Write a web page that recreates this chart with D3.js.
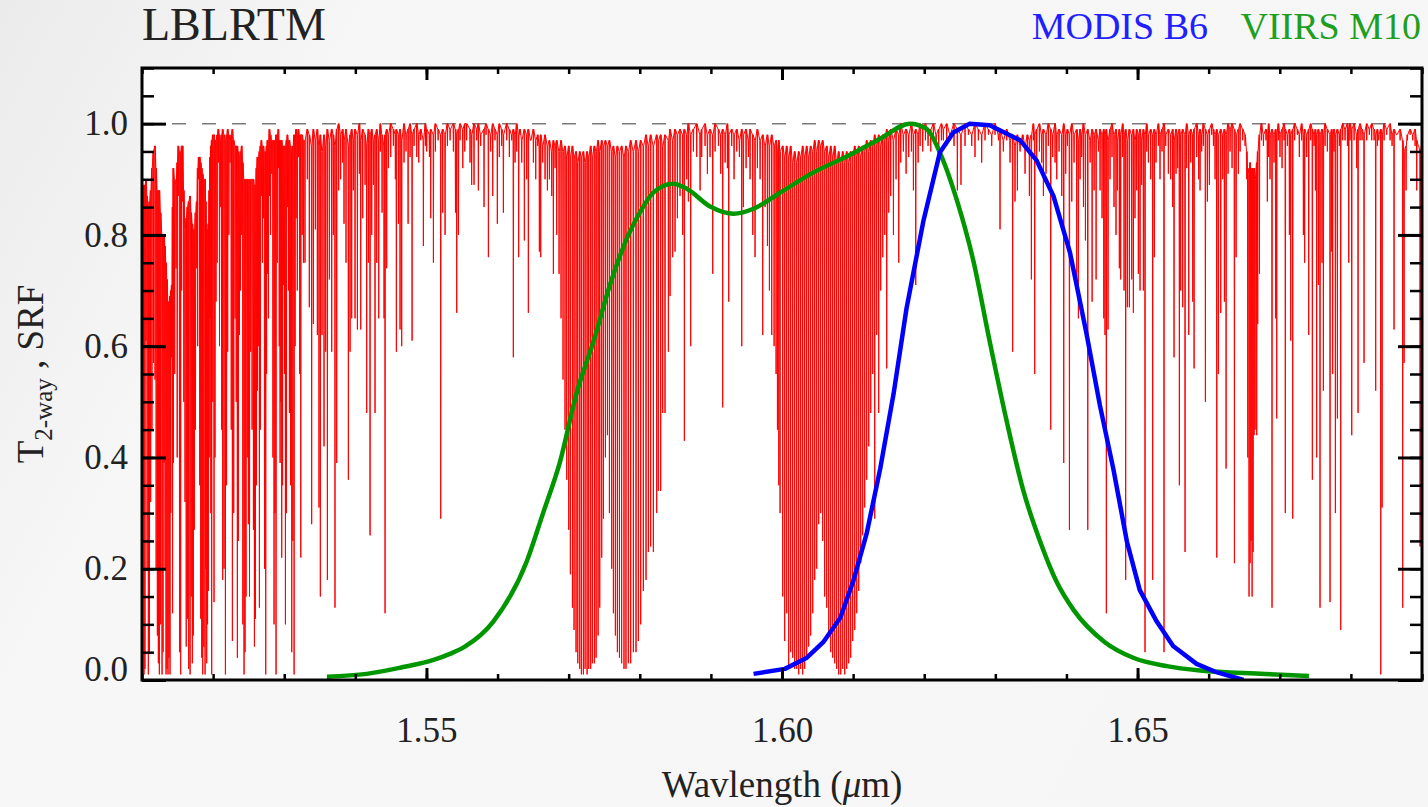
<!DOCTYPE html>
<html>
<head>
<meta charset="utf-8">
<script src="https://cdn.jsdelivr.net/npm/d3@7"></script>
<style>
  body { margin: 0; background: #f3f3f3; }
  text { font-family: "Liberation Serif", "Times New Roman", serif; }
</style>
</head>
<body>
<script>
// ---- data ----
// VIIRS M10 spectral response [wavelength um, SRF]
var srfM10 = [[1.5360,0.006],[1.5416,0.011],[1.5463,0.022],[1.5510,0.036],[1.5533,0.047],[1.5554,0.060],
  [1.5594,0.105],[1.5641,0.213],[1.5664,0.300],[1.5688,0.393],[1.5711,0.515],[1.5735,0.609],[1.5758,0.710],
  [1.5783,0.797],[1.5800,0.840],[1.5819,0.876],[1.5847,0.892],[1.5866,0.883],[1.5899,0.851],[1.5932,0.838],
  [1.5960,0.847],[1.6000,0.878],[1.6044,0.912],[1.6091,0.941],[1.6138,0.973],[1.6180,1.000],[1.6203,0.991],
  [1.6222,0.948],[1.6246,0.862],[1.6269,0.754],[1.6292,0.609],[1.6316,0.465],[1.6339,0.342],[1.6363,0.249],
  [1.6386,0.177],[1.6410,0.126],[1.6454,0.068],[1.6494,0.040],[1.6541,0.025],[1.6588,0.017],[1.6679,0.011],[1.6741,0.007]];

// MODIS B6 spectral response
var srfB6 = [[1.5960,0.011],[1.6004,0.020],[1.6035,0.040],[1.6058,0.068],[1.6082,0.112],[1.6100,0.177],
  [1.6119,0.263],[1.6138,0.379],[1.6157,0.515],[1.6175,0.667],[1.6199,0.826],[1.6222,0.948],[1.6241,0.984],
  [1.6264,1.000],[1.6292,0.997],[1.6335,0.970],[1.6358,0.934],[1.6382,0.869],[1.6405,0.768],[1.6428,0.624],
  [1.6447,0.494],[1.6466,0.379],[1.6485,0.249],[1.6503,0.162],[1.6527,0.105],[1.6550,0.061],[1.6583,0.029],
  [1.6611,0.014],[1.6649,0.000]];

// LBLRTM two-way transmittance, absorption lines: [centre nm, local top T, minimum T]
var linesShort = [
[1509.95,.90,.07],[1510.12,.89,.30],[1510.28,.88,.01],[1510.42,.89,.02],[1510.56,.90,.61],[1510.72,.87,.20],[1510.89,.85,.01],[1511.05,.86,.05],[1511.22,.88,.32],[1511.40,.92,.45],[1511.60,.95,.57],[1511.83,.96,.54],[1511.99,.92,.20],[1512.16,.88,.08],[1512.30,.88,.03],[1512.44,.88,.01],[1512.62,.84,.10],[1512.82,.80,.01],[1512.96,.80,.05],[1513.10,.80,.39],[1513.24,.78,.20],[1513.38,.75,.01],[1513.52,.72,.02],[1513.66,.68,.01],[1513.80,.68,.04],[1513.94,.69,.01],[1514.05,.70,.30],[1514.18,.71,.58],[1514.30,.85,.12],[1514.41,.92,.39],[1514.60,.90,.55],[1514.79,.89,.74],[1514.95,.93,.40],[1515.11,.96,.87],[1515.28,.95,.05],[1515.44,.95,.01],[1515.58,.96,.70],[1515.72,.96,.86],[1515.88,.88,.50],[1516.05,.81,.32],[1516.22,.83,.06],[1516.38,.85,.11],[1516.57,.86,.02],[1516.76,.87,.01],[1516.92,.84,.15],[1517.08,.82,.03],[1517.22,.81,.08],[1517.36,.81,.27],[1517.52,.84,.45],[1517.69,.86,.74],[1517.83,.92,.60],[1517.97,.94,.90],[1518.12,.94,.35],[1518.26,.93,.11],[1518.40,.92,.04],[1518.54,.91,.01],[1518.70,.90,.06],[1518.87,.90,.01],[1518.98,.86,.20],[1519.10,.81,.03],[1519.22,.81,.10],[1519.33,.82,.16],[1519.45,.88,.40],[1519.57,.94,.65],[1519.68,.96,.30],[1519.80,.97,.01],[1519.96,.98,.50],[1520.13,.98,.14],[1520.27,.97,.40],[1520.41,.97,.68],[1520.57,.98,.75],[1520.74,.99,.93],[1520.90,.98,.60],[1521.07,.97,.85],[1521.20,.98,.45],[1521.35,.99,.18],[1521.54,.98,.20],[1521.73,.97,.01],[1521.89,.98,.35],[1522.05,.99,.59],[1522.22,.98,.80],[1522.38,.97,.93],[1522.55,.98,.45],[1522.71,.99,.07],[1522.90,.97,.30],[1523.09,.96,.65],[1523.25,.96,.50],[1523.41,.96,.04],[1523.55,.95,.25],[1523.70,.94,.62],[1523.86,.95,.70],[1524.02,.96,.80],[1524.18,.93,.10],[1524.35,.90,.01],[1524.49,.90,.05],[1524.63,.90,.15],[1524.80,.90,.40],[1524.96,.90,.28],[1525.12,.90,.15],[1525.29,.90,.59],[1525.48,.90,.45],[1525.67,.90,.27],[1525.81,.89,.06],[1525.95,.89,.11],[1526.09,.92,.35],[1526.23,.94,.52],[1526.37,.94,.60],[1526.51,.95,.13],[1526.65,.96,.45],[1526.79,.97,.87],[1526.93,.96,.75],[1527.07,.96,.83],[1527.23,.95,.20],[1527.40,.95,.01],[1527.52,.96,.55],[1527.64,.97,.73],[1527.78,.97,.65],[1527.92,.99,.87],[1528.08,.98,.80],[1528.25,.97,.91],[1528.41,.97,.40],[1528.57,.97,.10],[1528.71,.97,.30],[1528.85,.98,.01],[1529.02,.98,.75],[1529.18,.99,.92],[1529.30,.97,.60],[1529.42,.97,.39],[1529.54,.97,.50],[1529.65,.97,.22],[1529.77,.96,.35],[1529.89,.96,.71],[1530.03,.96,.55],[1530.17,.96,.10],[1530.31,.97,.30],[1530.45,.98,.85],[1530.59,.97,.70],[1530.73,.97,.48],[1530.90,.96,.35],[1531.06,.95,.05],[1531.22,.96,.25],[1531.39,.98,.01],[1531.53,.98,.60],[1531.67,.99,.83],[1531.84,.98,.70],[1532.00,.99,.94],[1532.17,.98,.55],[1532.33,.98,.22],[1532.52,.98,.80],[1532.70,.97,.75],
[1532.92,.97,.75],[1533.25,.99,.90],[1533.53,.98,.67],[1533.86,.96,.28],[1534.10,.99,.64],[1534.38,.97,.81],[1534.66,.99,.62],[1534.89,.96,.31],[1535.08,.98,.15],[1535.32,.95,.62],[1535.60,.98,.42],[1535.83,.96,.59],[1536.07,.99,.18],[1536.35,.97,.72],[1536.68,.99,.59],[1536.91,.98,.80],[1537.14,.96,.13],[1537.38,.99,.39],[1537.66,1.0,.88],[1537.94,.98,.90],[1538.22,.99,.93],[1538.41,.97,.82],[1538.69,.99,.75],[1539.02,.96,.36],[1539.26,.98,.59],[1539.49,.99,.65],[1539.72,.97,.88],[1539.96,.99,.65],[1540.29,.98,.63],[1540.57,1.0,.91],[1540.76,.97,.63],[1541.04,.99,.83],[1541.37,.98,.89],[1541.60,.96,.48],[1541.84,.99,.75],[1542.07,.98,.26],[1542.31,.99,.80],[1542.54,.97,.89],[1542.77,.98,.48],[1543.01,.99,.75],[1543.29,.97,.65],[1543.52,1.0,.95],[1543.76,.98,.84],[1544.04,.96,.65],[1544.18,.98,.12],[1544.41,.99,.74],[1544.65,.98,.92],[1544.98,1.0,.94],[1545.35,.99,.96],[1545.63,.98,.90],[1545.77,.99,.59],[1546.06,.98,.82],[1546.29,.99,.63],[1546.52,.97,.60],[1546.85,1.0,.93],[1547.13,.98,.95],[1547.42,.99,.82],[1547.70,1.0,.94],[1547.98,.98,.61],[1548.26,.99,.96],[1548.64,1.0,.94],[1548.92,.98,.93],[1549.20,.99,.97],[1549.57,.97,.78],[1549.85,1.0,.96],[1550.04,.99,.95],[1550.42,.98,.94],[1550.60,.99,.83],[1550.98,.98,.75],[1551.26,1.0,.95],[1551.64,.99,.97],[1552.01,.98,.29],[1552.29,.99,.84],[1552.62,.98,.80],[1552.95,1.0,.96],[1553.33,.99,.97],[1553.79,1.0,.95],[1554.08,.99,.84],[1554.26,.98,.66],[1554.50,.99,.80],[1554.73,1.0,.97],[1555.11,.99,.92],[1555.39,1.0,.95]
];

var linesBand1 = [
[1555.66,1.0,.97],[1556.13,.99,.93],[1556.36,.98,.89],[1556.69,1.0,.89],[1557.07,.99,.97],[1557.30,1.0,.88],[1557.63,.98,.96],[1558.10,.99,.85],[1558.38,1.0,.98],[1558.71,.99,.76],[1559.03,.98,.95],[1559.32,1.0,.87],[1559.64,.99,.97],[1559.97,.98,.82],[1560.25,1.0,.94],[1560.58,.99,.96],[1560.82,.98,.84],[1561.29,1.0,.97],[1561.66,.99,.94],[1561.99,.98,.97],[1562.22,.99,.58],[1562.46,.98,.93],[1562.69,1.0,.95],[1562.97,.98,.76],[1563.16,.99,.98],[1563.40,.97,.93],[1563.77,.99,.79],[1564.10,.98,.90],[1564.33,.99,.66],[1564.66,.97,.97],[1565.04,.99,.93],[1565.37,.97,.90],[1565.65,.98,.96],[1565.88,.96,.77],[1566.07,.98,.76],[1566.35,.96,.93],[1566.68,.98,.90],[1567.01,.96,.88],[1567.29,.97,.90],[1567.62,.95,.87],[1567.85,.97,.73],[1568.09,.96,.92],[1568.32,.97,.80],[1568.65,.95,.73],[1568.93,.97,.65],[1569.21,.95,.54],[1569.49,.96,.45],[1569.73,.94,.36],[1570.01,.96,.27],[1570.24,.94,.19],[1570.53,.96,.13],[1570.76,.94,.09],[1571.04,.95,.05],[1571.28,.93,.03],[1571.56,.95,.02],[1571.79,.94,.01],[1572.07,.95,.01],[1572.31,.93,.02],[1572.59,.95,.01],[1572.82,.94,.02],[1573.10,.96,.02],[1573.34,.94,.03],[1573.62,.96,.03],[1573.86,.95,.04],[1574.14,.97,.08],[1574.37,.95,.13],[1574.65,.97,.22],[1574.89,.96,.29],[1575.17,.97,.40],[1575.45,.96,.44],[1575.73,.97,.30],[1576.05,.95,.20],[1576.29,.96,.12],[1576.57,.94,.08],[1576.85,.96,.05],[1577.14,.95,.04],
[1577.45,.96,.03],[1577.78,.94,.02],[1578.06,.96,.02],[1578.39,.95,.03],[1578.72,.97,.03],[1579.10,.95,.05],[1579.47,.97,.05],[1579.80,.95,.07],[1580.13,.97,.10],[1580.50,.96,.16],[1580.88,.98,.18],[1581.21,.96,.23],[1581.53,.98,.24],[1581.91,.96,.23],[1582.38,.98,.30],[1582.61,.97,.34],[1582.94,.98,.34],[1583.22,.96,.48],[1583.55,.98,.48],[1584.02,.97,.59],[1584.26,.99,.69],[1584.63,.97,.76],[1584.96,.99,.77],[1585.29,.98,.83],[1585.66,.99,.87],[1586.04,.98,.80],[1586.27,.99,.43],[1586.60,.98,.90],[1586.83,1.0,.86],[1587.16,.98,.60],[1587.54,.99,.95],[1588.01,1.0,.94],[1588.48,.98,.88],[1588.71,.99,.94],[1589.18,1.0,.96],[1589.51,.98,.91],[1589.88,.99,.94],[1590.26,.98,.73],[1590.59,1.0,.95],[1591.06,.99,.96],[1591.38,.98,.91],[1591.66,.99,.49],[1592.00,.98,.93],[1592.32,1.0,.92],[1592.51,.98,.68],[1592.93,.99,.96],[1593.26,.98,.90],[1593.64,.99,.95],[1594.01,.97,.94],[1594.34,.99,.60],[1594.57,.98,.85],[1594.95,.99,.92],[1595.28,.97,.94],[1595.51,.99,.90],[1595.89,.98,.80],[1596.21,.97,.76],[1596.54,.99,.92],[1596.92,.97,.90],[1597.29,.98,.62],[1597.62,.96,.85],[1597.95,.98,.78],[1598.23,.96,.70],[1598.56,.98,.62],[1598.89,.96,.60],[1599.17,.97,.55],[1599.36,.95,.45],[1599.55,.97,.35],[1599.73,.95,.30]
];

var linesBand2 = [
[1600.10,.96,.15],[1600.38,.94,.07],[1600.66,.96,.12],[1600.94,.94,.02],[1601.22,.96,.05],[1601.50,.93,.04],[1601.78,.95,.02],[1602.07,.93,.02],[1602.35,.95,.01],[1602.63,.94,.02],[1602.91,.96,.01],[1603.19,.94,.02],[1603.47,.96,.04],[1603.75,.94,.06],[1604.03,.96,.08],[1604.32,.95,.12],[1604.60,.97,.18],[1604.88,.95,.20],[1605.16,.97,.28],[1605.44,.96,.30],[1605.72,.97,.25],[1606.00,.95,.15],[1606.29,.96,.13],[1606.57,.94,.08],[1606.85,.96,.05],[1607.13,.94,.04],[1607.41,.96,.03],[1607.69,.93,.02],[1607.97,.95,.01],[1608.26,.93,.01],[1608.54,.95,.02],[1608.82,.93,.01],[1609.10,.95,.02],[1609.38,.93,.03],[1609.66,.95,.04],[1609.94,.94,.07],[1610.23,.96,.09],[1610.51,.94,.12],[1610.79,.96,.16],[1611.07,.94,.21],[1611.35,.96,.26],[1611.63,.95,.31],[1611.91,.97,.36],[1612.20,.95,.42],[1612.48,.97,.48],[1612.76,.96,.55],[1613.04,.98,.29],[1613.32,.96,.62],[1613.60,.98,.48],[1613.88,.96,.70],[1614.17,.98,.76],[1614.45,.97,.80],[1614.73,.99,.56],[1615.01,.97,.84],[1615.29,.99,.87],[1615.67,.97,.80],[1616.04,.99,.90],[1616.42,.98,.75],[1616.70,1.0,.93],[1617.07,.98,.95],[1617.45,.99,.91],[1617.82,.98,.94],[1618.20,1.0,.95],[1618.48,.98,.88],[1618.81,.99,.71],[1619.14,.98,.93],[1619.42,1.0,.96],[1619.79,.99,.95],[1620.17,1.0,.97],[1620.54,.98,.96],[1620.92,.99,.95],[1621.29,1.0,.97],[1621.67,.98,.96],[1622.04,.99,.95],[1622.42,1.0,.97]
];

var linesLong = [
[1622.69,.99,.97],[1623.16,1.0,.96],[1623.63,.98,.97],[1624.19,1.0,.96],[1624.66,.99,.88],[1625.17,.98,.89],[1625.74,1.0,.96],[1626.21,.99,.98],[1626.68,.98,.96],[1627.14,1.0,.94],[1627.61,.99,.97],[1628.08,.98,.93],[1628.55,1.0,.97],[1629.02,.99,.98],[1629.49,.98,.96],[1629.96,1.0,.98],[1630.43,.98,.97],[1630.66,.99,.81],[1631.13,.97,.95],[1631.60,.99,.97],[1632.07,.97,.93],[1632.44,.98,.59],[1632.77,.96,.86],[1633.10,.98,.88],[1633.48,.96,.95],[1633.85,.98,.97],[1634.18,.96,.91],[1634.51,.98,.96],[1634.79,.97,.87],[1635.07,.98,.72],[1635.35,1.0,.97],[1635.54,.98,.55],[1635.82,.99,.93],[1636.20,1.0,.95],[1636.52,.98,.93],[1636.76,.99,.87],[1637.13,.98,.91],[1637.46,1.0,.96],[1637.79,.99,.45],[1638.07,.98,.94],[1638.40,1.0,.93],[1638.64,.98,.90],[1638.96,.99,.95],[1639.34,.98,.87],[1639.62,1.0,.39],[1639.90,.98,.91],[1640.14,.99,.96],[1640.42,.98,.27],[1640.75,1.0,.86],[1641.07,.98,.93],[1641.45,.99,.71],[1641.68,.97,.65],[1641.92,.99,.90],[1642.15,.98,.94],[1642.39,1.0,.85],[1642.67,.98,.79],[1643.00,.99,.27],[1643.33,.97,.93],[1643.61,.99,.68],[1643.89,.98,.88],[1644.17,.99,.72],[1644.50,.97,.95],[1644.73,.99,.88],[1645.01,.98,.83],[1645.25,.99,.65],
[1645.42,.98,.62],[1645.61,.99,.12],[1645.85,.97,.63],[1646.13,.99,.90],[1646.41,1.0,.94],[1646.69,.98,.85],[1646.97,.99,.80],[1647.16,.97,.88],[1647.44,.99,.74],[1647.63,.98,.72],[1647.91,1.0,.94],[1648.10,.98,.70],[1648.33,.99,.18],[1648.57,.97,.67],[1648.85,.99,.67],[1649.18,.98,.72],[1649.41,.99,.66],[1649.64,.97,.83],[1649.88,.99,.88],[1650.11,.98,.73],[1650.35,.99,.70],[1650.58,.97,.89],[1650.82,.99,.70],[1651.05,.98,.05],[1651.29,1.0,.95],[1651.52,.98,.93],[1651.85,.99,.90],[1652.13,.98,.18],[1652.36,.99,.76],[1652.60,.98,.93],[1652.93,1.0,.96],[1653.16,.98,.90],[1653.44,.99,.95],[1653.72,1.0,.05],[1653.96,.98,.96],[1654.33,.99,.91],[1654.66,.98,.90],[1654.94,.99,.85],[1655.13,.97,.58],[1655.41,.99,.91],[1655.65,.98,.92],[1655.88,.99,.35],[1656.07,.98,.70],[1656.35,.99,.67],[1656.68,.98,.23],[1656.91,1.0,.92],[1657.20,.98,.62],[1657.48,.99,.93],[1657.76,.98,.68],[1657.95,.99,.56],[1658.32,1.0,.94],[1658.60,.98,.90],[1658.79,.99,.88],[1659.02,.98,.95],[1659.26,1.0,.96],[1659.54,.99,.50],[1659.82,.98,.86],[1660.10,.99,.89],[1660.43,1.0,.98],[1660.67,.99,.96],[1660.90,.98,.90],[1661.14,.99,.22],[1661.37,.98,.55],[1661.70,.99,.66],[1661.98,.98,.90],[1662.21,.99,.68],[1662.45,.98,.38],[1662.73,1.0,.91],[1663.01,.99,.95],[1663.29,1.0,.92],[1663.62,.99,.21],[1663.86,.98,.76],[1664.18,.99,.91],[1664.42,1.0,.95],[1664.79,.99,.97],[1665.12,.98,.96],[1665.36,.95,.90],[1665.50,.92,.40],[1665.68,.91,.15],[1665.83,.93,.21],[1665.97,.91,.25],[1666.11,.92,.15],[1666.25,.90,.23],[1666.39,.92,.44],[1666.53,.90,.45],[1666.76,.93,.44],[1666.90,.95,.64],[1667.14,.98,.73],[1667.42,1.0,.97],[1667.70,.98,.96],
[1668.06,.99,.97],[1668.25,.98,.86],[1668.44,1.0,.94],[1668.63,.98,.90],[1668.91,.99,.13],[1669.19,.98,.93],[1669.42,.99,.65],[1669.57,.98,.47],[1669.80,1.0,.97],[1670.03,.98,.94],[1670.32,.99,.92],[1670.60,1.0,.97],[1670.78,.99,.30],[1671.07,.98,.96],[1671.35,.99,.80],[1671.54,.98,.61],[1671.82,.99,.29],[1672.10,1.0,.97],[1672.47,.99,.98],[1672.75,.98,.94],[1673.08,1.0,.97],[1673.32,.98,.80],[1673.50,.99,.75],[1673.79,.98,.94],[1674.07,.99,.62],[1674.35,1.0,.97],[1674.58,.99,.36],[1674.82,.98,.96],[1675.01,.99,.88],[1675.19,.98,.40],[1675.43,.99,.71],[1675.66,.98,.13],[1675.94,.99,.75],[1676.13,.98,.52],[1676.37,1.0,.96],[1676.69,.99,.95],[1677.07,.98,.14],[1677.30,.99,.77],[1677.44,.98,.55],[1677.63,.99,.95],[1677.82,.98,.30],[1678.10,.99,.47],[1678.38,.98,.96],[1678.57,.99,.09],[1678.85,1.0,.97],[1679.18,.99,.97],[1679.51,1.0,.96],[1679.70,.99,.75],[1679.88,1.0,.97],[1680.12,.99,.44],[1680.45,1.0,.97],[1680.82,.98,.92],[1681.01,.99,.48],[1681.29,1.0,.97],[1681.57,.99,.97],[1681.85,.98,.57],[1682.23,1.0,.97],[1682.60,.99,.98],[1682.93,1.0,.97],[1683.26,.99,.97],[1683.49,.98,.52],[1683.73,.99,.96],[1683.92,.98,.97],[1684.20,.99,.01],[1684.39,.98,.31],[1684.67,1.0,.97],[1685.04,.99,.98],[1685.51,1.0,.97],[1685.79,.98,.96],[1686.07,.99,.63],[1686.45,.98,.98],[1686.92,.99,.97],[1687.29,.97,.13],[1687.48,.95,.57],[1687.76,.96,.88],[1687.95,.98,.97],[1688.33,.99,.98],[1688.70,.98,.97],[1689.03,.99,.96],[1689.26,.97,.88],[1689.50,.96,.96],[1689.73,.95,.24],[1689.97,.96,.87]
];

var xMajor = [1.55, 1.60, 1.65];
var yMajor = [0.0, 0.2, 0.4, 0.6, 0.8, 1.0];

// ---- layout ----
var W = 1428, H = 807;
var L = 142, R = 1422, T = 68, B = 680;

var x = d3.scaleLinear().domain([1.51, 1.69]).range([L, R]);
var y = d3.scaleLinear().domain([0, 1.1]).range([B, T]);

var svg = d3.select("body").append("svg").attr("width", W).attr("height", H);

var defs = svg.append("defs");
var grad = defs.append("linearGradient").attr("id", "bg").attr("x1", "0").attr("y1", "0").attr("x2", "1").attr("y2", "0.3");
grad.append("stop").attr("offset", "0").attr("stop-color", "#ebebeb");
grad.append("stop").attr("offset", "0.25").attr("stop-color", "#f7f7f7");
grad.append("stop").attr("offset", "1").attr("stop-color", "#f6f6f6");
defs.append("clipPath").attr("id", "plotclip").append("rect")
  .attr("x", L).attr("y", T).attr("width", R - L).attr("height", B - T);

svg.append("rect").attr("width", W).attr("height", H).attr("fill", "url(#bg)");
svg.append("rect").attr("x", L).attr("y", T).attr("width", R - L).attr("height", B - T).attr("fill", "#fff");

var plot = svg.append("g").attr("clip-path", "url(#plotclip)");

// reference line at T = 1
plot.append("line")
  .attr("x1", x(1.51)).attr("x2", x(1.69)).attr("y1", y(1)).attr("y2", y(1))
  .attr("stroke", "#7a7a7a").attr("stroke-width", 1.5).attr("stroke-dasharray", "14,16");

// red transmittance spectrum: one narrow dip per absorption line
var allLines = d3.sort(linesShort.concat(linesBand1, linesBand2, linesLong), d => d[0]);
var pts = [];
allLines.forEach(function(d) {
  var cx = x(d[0] / 1000);
  pts.push([cx - 0.3, y(d[1])], [cx, y(d[2])], [cx + 0.3, y(d[1])]);
});
plot.append("path").attr("d", d3.line()(pts))
  .attr("fill", "none").attr("stroke", "#ff0000").attr("stroke-width", 1);

// SRF curves
plot.append("path").datum(srfM10)
  .attr("d", d3.line().x(d => x(d[0])).y(d => y(d[1])).curve(d3.curveMonotoneX))
  .attr("fill", "none").attr("stroke", "#009600").attr("stroke-width", 4.5);
plot.append("path").datum(srfB6)
  .attr("d", d3.line().x(d => x(d[0])).y(d => y(d[1])))
  .attr("fill", "none").attr("stroke", "#0000ff").attr("stroke-width", 4.5).attr("stroke-linejoin", "round");

// ---- axes (ticks pointing inward) ----
function styleAxis(g, w) {
  g.select(".domain").remove();
  g.selectAll(".tick line").attr("stroke", "#000").attr("stroke-width", w);
}
var fmtX = d3.format(".2f"), fmtY = d3.format(".1f");

svg.append("g").attr("transform", "translate(0," + B + ")")
  .call(d3.axisBottom(x).tickValues(x.ticks(18)).tickSize(-6).tickSizeOuter(0).tickFormat(""))
  .call(styleAxis, 2.5);
var xb = svg.append("g").attr("transform", "translate(0," + B + ")")
  .call(d3.axisBottom(x).tickValues(xMajor).tickSize(-12).tickSizeOuter(0).tickPadding(37).tickFormat(fmtX))
  .call(styleAxis, 3);
svg.append("g").attr("transform", "translate(0," + T + ")")
  .call(d3.axisTop(x).tickValues(x.ticks(18)).tickSize(-6).tickSizeOuter(0).tickFormat(""))
  .call(styleAxis, 2.5);
svg.append("g").attr("transform", "translate(0," + T + ")")
  .call(d3.axisTop(x).tickValues(xMajor).tickSize(-12).tickSizeOuter(0).tickFormat(""))
  .call(styleAxis, 3);

svg.append("g").attr("transform", "translate(" + L + ",0)")
  .call(d3.axisLeft(y).tickValues(y.ticks(22)).tickSize(-12).tickSizeOuter(0).tickFormat(""))
  .call(styleAxis, 2.5);
var yl = svg.append("g").attr("transform", "translate(" + L + ",0)")
  .call(d3.axisLeft(y).tickValues(yMajor).tickSize(-24).tickSizeOuter(0).tickPadding(14).tickFormat(fmtY))
  .call(styleAxis, 3);
svg.append("g").attr("transform", "translate(" + R + ",0)")
  .call(d3.axisRight(y).tickValues(y.ticks(22)).tickSize(-12).tickSizeOuter(0).tickFormat(""))
  .call(styleAxis, 2.5);
svg.append("g").attr("transform", "translate(" + R + ",0)")
  .call(d3.axisRight(y).tickValues(yMajor).tickSize(-24).tickSizeOuter(0).tickFormat(""))
  .call(styleAxis, 3);

[xb, yl].forEach(function(g) {
  g.selectAll(".tick text").attr("fill", "#222").style("font-size", "35px")
    .style("font-family", "'Liberation Serif', serif");
});
yl.selectAll(".tick text").filter(d => d === 0).attr("dy", "0em");

// frame
svg.append("rect").attr("x", L).attr("y", T).attr("width", R - L).attr("height", B - T)
  .attr("fill", "none").attr("stroke", "#000").attr("stroke-width", 3);

// ---- texts ----
svg.append("text").attr("x", L).attr("y", 40).attr("fill", "#222")
  .style("font-size", "46px").text("LBLRTM");
svg.append("text").attr("x", 1208).attr("y", 39).attr("text-anchor", "end").attr("fill", "#1f1fff")
  .style("font-size", "38px").text("MODIS B6");
svg.append("text").attr("x", 1421).attr("y", 39).attr("text-anchor", "end").attr("fill", "#1f9f1f")
  .style("font-size", "38px").text("VIIRS M10");

var xt = svg.append("text").attr("x", (L + R) / 2).attr("y", 797).attr("text-anchor", "middle")
  .attr("fill", "#222").style("font-size", "37px");
xt.append("tspan").text("Wavlength (");
xt.append("tspan").style("font-style", "italic").text("\u03bc");
xt.append("tspan").text("m)");

var yt = svg.append("text").attr("transform", "translate(43," + ((T + B) / 2) + ") rotate(-90)")
  .attr("text-anchor", "middle").attr("fill", "#222").style("font-size", "37px");
yt.append("tspan").text("T");
yt.append("tspan").attr("dy", 9).style("font-size", "25px").text("2-way");
yt.append("tspan").attr("dy", -9).text(" , SRF");
</script>
</body>
</html>
